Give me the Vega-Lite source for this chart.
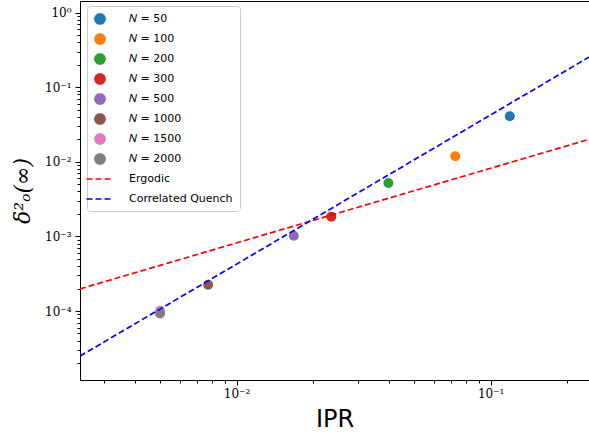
{
  "$schema": "https://vega.github.io/schema/vega-lite/v6.json",
  "width": 509,
  "height": 379,
  "autosize": {"type": "none"},
  "padding": {"left": 80, "top": 1, "right": 0, "bottom": 59},
  "background": "white",
  "config": {
    "view": {"stroke": null},
    "axis": {"grid": false, "domainColor": "black", "tickColor": "black", "labelColor": "black", "titleColor": "black"}
  },
  "datasets": {
    "points": [
      {"series": "𝑁 = 50", "ipr": 0.119, "delta": 0.0408},
      {"series": "𝑁 = 100", "ipr": 0.0726, "delta": 0.0119},
      {"series": "𝑁 = 200", "ipr": 0.0396, "delta": 0.00521},
      {"series": "𝑁 = 300", "ipr": 0.0236, "delta": 0.00184},
      {"series": "𝑁 = 500", "ipr": 0.0168, "delta": 0.00102},
      {"series": "𝑁 = 1000", "ipr": 0.00773, "delta": 0.000225},
      {"series": "𝑁 = 1500", "ipr": 0.0050, "delta": 0.000101},
      {"series": "𝑁 = 2000", "ipr": 0.0050, "delta": 0.000093}
    ],
    "lines": [
      {"series": "Ergodic", "ipr": 0.00242, "delta": 0.000198},
      {"series": "Ergodic", "ipr": 0.244, "delta": 0.0200},
      {"series": "Correlated Quench", "ipr": 0.00242, "delta": 0.0000249},
      {"series": "Correlated Quench", "ipr": 0.244, "delta": 0.253}
    ]
  },
  "encoding": {
    "y": {
      "field": "delta", "type": "quantitative",
      "scale": {"type": "log", "domain": [0.0000119, 1.43], "nice": false, "zero": false},
      "axis": {
        "title": "δ²ₒ(∞)",
        "titleFont": "DejaVu Serif", "titleFontSize": 22, "titleFontWeight": "normal", "titleFontStyle": "italic", "titlePadding": 10,
        "values": [0.00002,0.00003,0.00004,0.00005,0.00006,0.00007,0.00008,0.00009,0.0001,0.0002,0.0003,0.0004,0.0005,0.0006,0.0007,0.0008,0.0009,0.001,0.002,0.003,0.004,0.005,0.006,0.007,0.008,0.009,0.01,0.02,0.03,0.04,0.05,0.06,0.07,0.08,0.09,0.1,0.2,0.3,0.4,0.5,0.6,0.7,0.8,0.9,1],
        "labelExpr": "abs(log(datum.value)/LN10 - round(log(datum.value)/LN10)) < 1e-6 ? (round(log(datum.value)/LN10) == 0 ? '10⁰' : round(log(datum.value)/LN10) == -1 ? '10⁻¹' : round(log(datum.value)/LN10) == -2 ? '10⁻²' : round(log(datum.value)/LN10) == -3 ? '10⁻³' : '10⁻⁴') : ''",
        "labelFont": "DejaVu Serif", "labelFontSize": 12, "labelPadding": 4,
        "tickSize": {"condition": {"test": "abs(log(datum.value)/LN10 - round(log(datum.value)/LN10)) < 1e-6", "value": 5}, "value": 3},
        "labelFlush": false, "labelOverlap": false
      }
    },
    "color": {
      "field": "series", "type": "nominal",
      "scale": {
        "domain": ["𝑁 = 50","𝑁 = 100","𝑁 = 200","𝑁 = 300","𝑁 = 500","𝑁 = 1000","𝑁 = 1500","𝑁 = 2000","Ergodic","Correlated Quench"],
        "range": ["#1f77b4","#ff7f0e","#2ca02c","#d62728","#9467bd","#8c564b","#e377c2","#7f7f7f","#ff0000","#0000ff"]
      },
      "legend": {
        "title": null,
        "orient": "none",
        "legendX": 7,
        "legendY": 5,
        "padding": 7,
        "fillColor": "rgba(255,255,255,0.8)",
        "strokeColor": "#cccccc",
        "cornerRadius": 3,
        "symbolSize": 100,
        "symbolType": "circle",
        "labelFont": "DejaVu Sans",
        "labelFontSize": 11,
        "labelColor": "black",
        "labelOffset": 23,
        "rowPadding": 2,
        "gridAlign": "all",
        "encode": {
          "symbols": {
            "update": {
              "shape": {"signal": "(datum.value === 'Ergodic' || datum.value === 'Correlated Quench') ? 'M-2.7,0L2.7,0' : 'circle'"},
              "size": {"value": 100},
              "fill": {"signal": "(datum.value === 'Ergodic' || datum.value === 'Correlated Quench') ? 'transparent' : scale('color', datum.value)"},
              "stroke": {"signal": "(datum.value === 'Ergodic' || datum.value === 'Correlated Quench') ? scale('color', datum.value) : 'transparent'"},
              "strokeDash": {"signal": "(datum.value === 'Ergodic' || datum.value === 'Correlated Quench') ? [6, 3] : [1, 0]"},
              "strokeWidth": {"value": 1.7},
              "opacity": {"value": 1}
            }
          }
        }
      }
    }
  },
  "resolve": {"axis": {"x": "independent"}},
  "layer": [
    {
      "data": {"name": "points"},
      "mark": {"type": "point", "filled": true, "size": 100, "opacity": 1},
      "encoding": {
        "x": {
          "field": "ipr", "type": "quantitative",
          "scale": {"type": "log", "domain": [0.00242, 0.244], "nice": false, "zero": false},
          "axis": {
            "orient": "bottom",
            "title": "IPR",
            "titleFont": "DejaVu Sans", "titleFontSize": 24, "titleFontWeight": "normal", "titlePadding": 8,
            "values": [0.003,0.004,0.005,0.006,0.007,0.008,0.009,0.01,0.02,0.03,0.04,0.05,0.06,0.07,0.08,0.09,0.1,0.2],
            "labelExpr": "abs(log(datum.value)/LN10 - round(log(datum.value)/LN10)) < 1e-6 ? '10' + (round(log(datum.value)/LN10) == -2 ? '⁻²' : '⁻¹') : ''",
            "labelFont": "DejaVu Serif", "labelFontSize": 12, "labelPadding": 3,
            "tickSize": {"condition": {"test": "abs(log(datum.value)/LN10 - round(log(datum.value)/LN10)) < 1e-6", "value": 5}, "value": 3},
            "labelFlush": false, "labelOverlap": false
          }
        }
      }
    },
    {
      "data": {"name": "lines"},
      "mark": {"type": "line", "strokeDash": [6, 3], "strokeWidth": 1.7, "clip": true},
      "encoding": {
        "x": {
          "field": "ipr", "type": "quantitative",
          "axis": {"orient": "top", "title": null, "labels": false, "ticks": false, "domainColor": "black"}
        }
      }
    }
  ]
}
